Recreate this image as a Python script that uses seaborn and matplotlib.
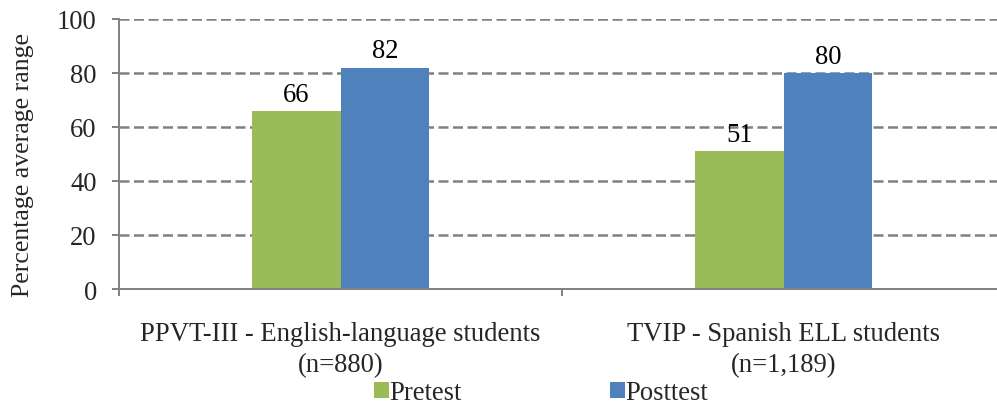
import matplotlib
matplotlib.use("Agg")
import matplotlib.pyplot as plt
import pandas as pd
import seaborn as sns

tests = ["PPVT-III - English-language students\n(n=880)",
         "TVIP - Spanish ELL students\n(n=1,189)"]
phases = ["Pretest", "Posttest"]
pretest = [66, 51]
posttest = [82, 80]

df = pd.DataFrame({
    "test": tests * 2,
    "phase": ["Pretest"] * 2 + ["Posttest"] * 2,
    "score": pretest + posttest,
})

sns.set_style("white")
plt.rcParams["font.family"] = ["Liberation Serif", "DejaVu Serif"]
fs = 19.2
grey = "#808080"

fig = plt.figure(figsize=(9.97, 4.06), dpi=100)
ax = fig.add_axes([119 / 997, 116 / 406, 886 / 997, 270 / 406])

custom_palette = {"Pretest": "#9BBB59", "Posttest": "#4F81BD"}
sns.barplot(data=df, x="test", y="score", hue="phase", hue_order=phases,
            palette=custom_palette, width=0.4, gap=0, saturation=1,
            linewidth=0, ax=ax, legend=True)

for c in ax.containers:
    ax.bar_label(c, fmt="%d", fontsize=fs, padding=3, color="black")

ax.set_ylim(0, 100)
ax.set_xlim(-0.5, 1.5)
ax.set_yticks(range(0, 101, 20))
ax.set_axisbelow(True)
ax.yaxis.grid(True, color=grey, linestyle=(0, (4.0, 1.8)), linewidth=1.8)
ax.xaxis.grid(False)

ax.spines["top"].set_visible(False)
ax.spines["right"].set_visible(False)
for s in ["left", "bottom"]:
    ax.spines[s].set_color(grey)
    ax.spines[s].set_linewidth(1.4)

ax.tick_params(axis="y", direction="out", length=5, width=1.4, color=grey,
               pad=11, labelsize=fs, left=True)
ax.set_xticks([-0.5, 0.5, 1.5], minor=True)
ax.tick_params(axis="x", which="minor", direction="out", length=5, width=1.4,
               color=grey, bottom=True)
ax.tick_params(axis="x", which="major", length=0, pad=23, labelsize=fs)
for t in ax.get_xticklabels():
    t.set_linespacing(1.3)

ax.set_xlabel("")
ax.set_ylabel("")
fig.text(23 / 997, 1 - 165 / 406, "Percentage average range", rotation=90,
         ha="center", va="center", fontsize=18.5)

handles, labels = ax.get_legend_handles_labels()
ax.get_legend().remove()
fig.legend(handles, labels, loc="center", bbox_to_anchor=(541 / 997, 1 - 394 / 406),
           ncol=2, frameon=False, fontsize=fs, handlelength=0.55,
           handleheight=0.55, handletextpad=0.0, columnspacing=5.6,
           borderpad=0, borderaxespad=0)

fig.savefig("out.png", dpi=100)
